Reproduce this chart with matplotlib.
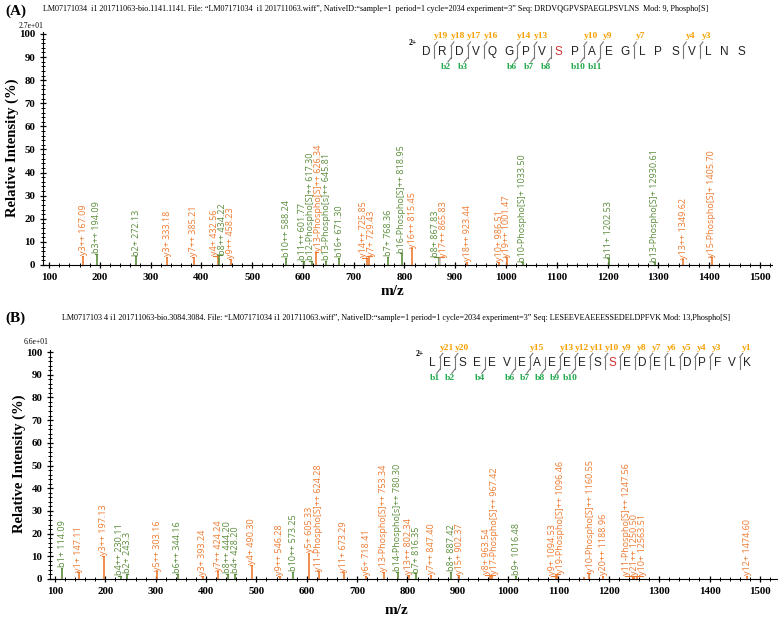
import numpy as np
import matplotlib
matplotlib.use("Agg")
import matplotlib.pyplot as plt
from matplotlib.ticker import MultipleLocator

## panel A data (m/z position, height in %, label text, ion type)
a_mz = [167.09, 194.09, 272.13, 333.18, 385.21, 432.56, 434.22, 458.23, 567.0, 601.77,
        617.30, 626.34, 645.81, 671.30, 725.85, 729.43, 768.36, 794.5, 815.45, 867.83,
        870.5, 923.44, 986.51, 1001.47, 1033.50, 1202.53, 1293.06, 1349.62, 1405.70]
a_int = [4.0, 4.8, 3.8, 3.5, 3.5, 4.0, 4.2, 2.6, 3.0, 1.9,
         1.9, 5.6, 1.9, 3.0, 3.0, 3.7, 3.5, 5.0, 7.2, 3.3,
         3.3, 1.4, 1.4, 3.3, 1.2, 2.9, 1.2, 2.5, 3.3]
a_lab = ['y3++ 167.09', 'b3++ 194.09', 'b2+ 272.13', 'y3+ 333.18', 'y7++ 385.21',
         'y4+ 432.56', 'b8++ 434.22', 'y9++ 458.23', 'b10++ 588.24', 'b11++ 601.77',
         'b12-Phospho[S]++ 617.30', 'y13-Phospho[S]++ 626.34', 'b13-Phospho[s]++ 645.81',
         'b16+ 671.30', 'y14++ 725.85', 'y7+ 729.43', 'b7+ 768.36',
         'b16-Phospho[S]++ 818.95', 'y16++ 815.45', 'b8+ 867.83', 'y17++ 865.83',
         'y18++ 923.44', 'y10+ 986.51', 'y19++ 1001.47', 'b10-Phospho[S]+ 1033.50',
         'b11+ 1202.53', 'b13-Phospho[S]+ 12930.61', 'y13++ 1349.62', 'y15-Phospho[S]+ 1405.70']
a_ion = ['y', 'b', 'b', 'y', 'y', 'y', 'b', 'y', 'b', 'b',
         'b', 'y', 'b', 'b', 'y', 'y', 'b', 'b', 'y', 'b',
         'g', 'y', 'y', 'y', 'b', 'b', 'b', 'y', 'y']

## panel B data
b_mz = [114.09, 147.11, 197.13, 230.11, 243.30, 303.16, 344.16, 393.24, 424.24, 444.20,
        457.5, 490.30, 546.28, 573.25, 605.33, 624.28, 673.29, 718.41, 753.34, 780.30,
        802.34, 816.35, 847.40, 887.42, 902.37, 963.54, 967.42, 1016.48, 1094.53, 1096.46,
        1151.0, 1160.55, 1188.96, 1247.56, 1250.50, 1256.35, 1474.60]
b_int = [4.8, 2.9, 10.2, 1.5, 2.3, 3.4, 2.3, 1.5, 3.4, 2.3,
         2.3, 6.3, 1.5, 3.1, 11.4, 3.4, 2.9, 1.5, 3.2, 3.2,
         1.8, 2.5, 1.8, 3.2, 1.8, 1.9, 1.9, 1.5, 1.5, 2.3,
         1.0, 2.7, 1.5, 1.3, 1.3, 1.5, 1.5]
b_lab = ['b1+ 114.09', 'y1+ 147.11', 'y3++ 197.13', 'b4++ 230.11', 'b2+ 243.3',
         'y5++ 303.16', 'b6++ 344.16', 'y3+ 393.24', 'y7++ 424.24', 'b8++ 444.20',
         'b4+ 428.20', 'y4+ 490.30', 'y9++ 546.28', 'b10++ 573.25', 'y5+ 605.33',
         'y11-Phospho[S]++ 624.28', 'y11+ 673.29', 'y6+ 718.41', 'y13-Phospho[S]++ 753.34',
         'b14-Phospho[s]++ 780.30', 'y13++ 802.34', 'b7+ 816.35', 'y7++ 847.40',
         'b8+ 887.42', 'y15+ 902.37', 'y8+ 963.54', 'y17-Phospho[S]++ 967.42',
         'b9+ 1016.48', 'y9+ 1094.53', 'y19-Phospho[S]++ 1096.46', '',
         'y10-Phospho[S]++ 1160.55', 'y20++ 1188.96', 'y11-Phospho[S]++ 1247.56',
         'y21++ 1250.50', 'y10+ 12563.51', 'y12+ 1474.60']
b_ion = ['b', 'y', 'y', 'b', 'b', 'y', 'b', 'y', 'y', 'b',
         'b', 'y', 'y', 'b', 'y', 'y', 'y', 'y', 'y', 'b',
         'y', 'b', 'y', 'b', 'y', 'y', 'y', 'b', 'y', 'y',
         'y', 'y', 'y', 'y', 'y', 'y', 'y']

## fragment maps
seq_a = 'DRDVQGPVSPAEGLPSVLNS'
phos_a = 8
ya_cuts = {1: 'y19', 2: 'y18', 3: 'y17', 4: 'y16', 6: 'y14', 7: 'y13', 10: 'y10', 11: 'y9',
           13: 'y7', 16: 'y4', 17: 'y3'}
ba_cuts = {2: 'b2', 3: 'b3', 6: 'b6', 7: 'b7', 8: 'b8', 10: 'b10', 11: 'b11'}

seq_b = 'LESEEVEAEEESSEDELDPFVK'
phos_b = 12
yb_cuts = {1: 'y21', 2: 'y20', 7: 'y15', 9: 'y13', 10: 'y12', 11: 'y11', 12: 'y10', 13: 'y9',
           14: 'y8', 15: 'y7', 16: 'y6', 17: 'y5', 18: 'y4', 19: 'y3', 21: 'y1'}
bb_cuts = {1: 'b1', 2: 'b2', 4: 'b4', 6: 'b6', 7: 'b7', 8: 'b8', 9: 'b9', 10: 'b10'}

head_a = ('LM07171034  i1 201711063-bio.1141.1141. File: \u201cLM07171034  i1 201711063.wiff\u201d, '
          'NativeID:\u201csample=1  period=1 cycle=2034 experiment=3\u201d Seq: DRDVQGPVSPAEGLPSVLNS  '
          'Mod: 9, Phospho[S]')
head_b = ('LM0717103 4 i1 201711063-bio.3084.3084. File: \u201cLM07171034 i1 201711063.wiff\u201d, '
          'NativeID:\u201csample=1 period=1 cycle=2034 experiment=3\u201d Seq: LESEEVEAEEESSEDELDPFVK '
          'Mod: 13,Phospho[S]')

W, H = 781, 621
ORANGE = '#EE7A30'
GREEN = '#5A8C3A'
colors = {'y': ORANGE, 'b': GREEN, 'g': '#C9BDBD'}
SERIF = 'Liberation Serif'


def fx(x):
    return x / W


def fy(y):
    return 1 - y / H


def spread(xs, gap):
    xs = np.asarray(xs, float)
    order = np.argsort(xs)
    pos = xs[order].copy()
    for _ in range(300):
        moved = False
        for i in range(1, len(pos)):
            d = pos[i] - pos[i - 1]
            if d < gap - 1e-6:
                s = (gap - d) / 2
                pos[i - 1] -= s
                pos[i] += s
                moved = True
        if not moved:
            break
    out = np.empty_like(pos)
    out[order] = pos
    return out


def spectrum(ax, mz, inten, labs, ions, xlim):
    for x, h, ion in zip(mz, inten, ions):
        ax.plot([x, x], [0, h], color=colors[ion], lw=1.2, solid_capstyle='butt')
    lx = spread(mz, 15.5)
    for x, l, h, lab, ion in zip(mz, lx, inten, labs, ions):
        if not lab:
            continue
        c = ORANGE if ion != 'b' else GREEN
        ax.plot([min(x, l) - 3, max(x, l)], [h, h], color=c, lw=0.8)
        ax.text(l, h + 0.3, lab, rotation=90, ha='center', va='bottom',
                color=c, fontsize=6.5, family='Open Sans')
    ax.set_xlim(*xlim)
    ax.set_ylim(0, 101.5)
    for s in ['top', 'right']:
        ax.spines[s].set_visible(False)
    ax.spines['left'].set_bounds(0, 101)
    ax.xaxis.set_major_locator(MultipleLocator(100))
    ax.xaxis.set_minor_locator(MultipleLocator(20))
    ax.yaxis.set_major_locator(MultipleLocator(10))
    ax.yaxis.set_minor_locator(MultipleLocator(2))
    ax.set_xticks(np.arange(100, 1501, 100))
    ax.tick_params(which='major', direction='inout', length=5, width=0.9, labelsize=7.8, pad=3)
    ax.tick_params(which='minor', direction='inout', length=3, width=0.7)
    for t in ax.get_xticklabels() + ax.get_yticklabels():
        t.set_family(SERIF)
        t.set_fontweight('bold')
    ax.set_ylabel('Relative Intensity (%)', family=SERIF, fontweight='bold', fontsize=10.5)
    ax.set_xlabel('m/z', family=SERIF, fontweight='bold', fontsize=11)


def fragments(fig, seq, phos, ycuts, bcuts, x0, step, yc):
    for i, ch in enumerate(seq):
        fig.text(fx(x0 + i * step), fy(yc), ch, ha='center', va='center',
                 fontsize=8.5, family='Liberation Sans',
                 color='#D03030' if i == phos else '#222222')
    cuts = sorted(set(ycuts) | set(bcuts))
    for k in cuts:
        cx = x0 + (k - 0.5) * step
        fig.lines.append(plt.Line2D([fx(cx), fx(cx)], [fy(yc + 6), fy(yc - 6)],
                                    transform=fig.transFigure, color='#777777', lw=0.8))
        if k in ycuts:
            fig.lines.append(plt.Line2D([fx(cx), fx(cx + 3)], [fy(yc - 6), fy(yc - 10)],
                                        transform=fig.transFigure, color='#777777', lw=0.8))
            fig.text(fx(cx + 7), fy(yc - 15.5), ycuts[k], ha='center', va='center',
                     fontsize=6.8, family=SERIF, fontweight='bold', color='#F5A000')
        if k in bcuts:
            fig.lines.append(plt.Line2D([fx(cx), fx(cx - 3)], [fy(yc + 6), fy(yc + 10)],
                                        transform=fig.transFigure, color='#777777', lw=0.8))
            fig.text(fx(cx - 5), fy(yc + 15), bcuts[k], ha='center', va='center',
                     fontsize=6.8, family=SERIF, fontweight='bold', color='#1FA84A')
    fig.text(fx(x0 - 13), fy(yc - 9), '2+', ha='center', va='center',
             fontsize=5.5, family=SERIF, fontweight='bold')


fig = plt.figure(figsize=(W / 100, H / 100), dpi=100)

axA = fig.add_axes([fx(43), fy(265), (772 - 43) / W, (265 - 30.5) / H])
spectrum(axA, a_mz, a_int, a_lab, a_ion, (88, 1524))
axA.yaxis.set_label_coords(-0.033, 0.5)
axA.xaxis.set_label_coords(0.48, -0.085)

axB = fig.add_axes([fx(50), fy(579), (777 - 50) / W, (579 - 348.6) / H])
spectrum(axB, b_mz, b_int, b_lab, b_ion, (90, 1534))
axB.yaxis.set_label_coords(-0.033, 0.5)
axB.xaxis.set_label_coords(0.476, -0.108)

fig.text(fx(5), fy(11), '(A)', fontsize=11, family=SERIF, fontweight='bold', va='center')
fig.text(fx(43), fy(9), head_a, fontsize=5.9, family=SERIF, va='center')
fig.text(fx(31), fy(26), '2.7e+01', fontsize=5.5, family=SERIF, ha='center', va='center')
fig.text(fx(5), fy(318), '(B)', fontsize=11, family=SERIF, fontweight='bold', va='center')
fig.text(fx(62), fy(318), head_b, fontsize=5.9, family=SERIF, va='center')
fig.text(fx(36), fy(342), '6.6e+01', fontsize=5.5, family=SERIF, ha='center', va='center')

fragments(fig, seq_a, phos_a, ya_cuts, ba_cuts, 426, 16.6, 52)
fragments(fig, seq_b, phos_b, yb_cuts, bb_cuts, 432.3, 15.0, 363.3)

fig.savefig('out.png', dpi=100)
